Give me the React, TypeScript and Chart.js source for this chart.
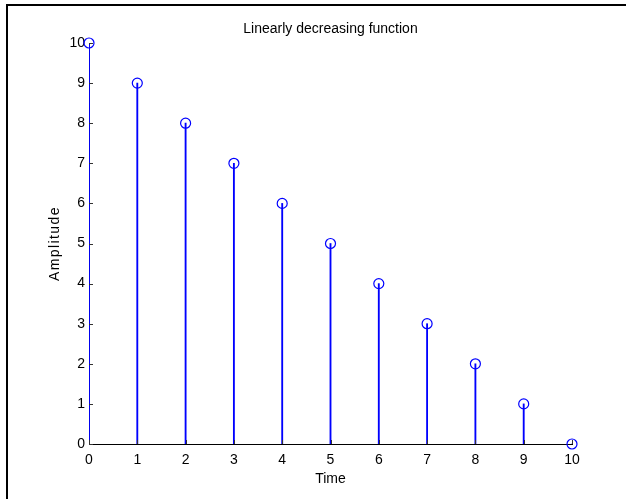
import React, { useEffect, useRef } from "react";
import { Chart, registerables } from "chart.js";

Chart.register(...registerables);

// Sample index (time) and amplitude of the linearly decreasing sequence
const timeSteps = [0, 1, 2, 3, 4, 5, 6, 7, 8, 9, 10];
const amplitudes = [10, 9, 8, 7, 6, 5, 4, 3, 2, 1, 0];

const xTicks = [0, 1, 2, 3, 4, 5, 6, 7, 8, 9, 10];
const yTicks = [0, 1, 2, 3, 4, 5, 6, 7, 8, 9, 10];

const titleText = "Linearly decreasing function";
const xLabel = "Time";
const yLabel = "Amplitude";

const STEM_BLUE = "#0000ff";
const FONT = "Arial, 'Liberation Sans', sans-serif";

// Short inward tick marks on the left and bottom axes
const inwardTicks = {
  id: "inwardTicks",
  afterDatasetsDraw(chart: any) {
    const { ctx, chartArea, scales } = chart;
    const len = 4;
    ctx.save();
    ctx.strokeStyle = "#333";
    ctx.lineWidth = 1;
    ctx.beginPath();
    for (const v of yTicks) {
      const y = Math.round(scales.y.getPixelForValue(v)) + 0.5;
      ctx.moveTo(chartArea.left, y);
      ctx.lineTo(chartArea.left + len, y);
    }
    for (const v of xTicks) {
      const x = Math.round(scales.x.getPixelForValue(v)) + 0.5;
      ctx.moveTo(x, chartArea.bottom);
      ctx.lineTo(x, chartArea.bottom - len);
    }
    ctx.stroke();
    ctx.restore();
  },
};

// Rotated y-axis label, slightly letter-spaced
const yAxisLabel = {
  id: "yAxisLabel",
  afterDraw(chart: any) {
    const { ctx, chartArea } = chart;
    ctx.save();
    ctx.translate(55, (chartArea.top + chartArea.bottom) / 2);
    ctx.rotate(-Math.PI / 2);
    ctx.font = `14px ${FONT}`;
    (ctx as any).letterSpacing = "1.4px";
    ctx.fillStyle = "#000";
    ctx.textAlign = "center";
    ctx.textBaseline = "middle";
    ctx.fillText(yLabel, 0, 0);
    ctx.restore();
  },
};

export default function App() {
  const canvasRef = useRef<HTMLCanvasElement | null>(null);

  useEffect(() => {
    if (!canvasRef.current) return;
    const points = timeSteps.map((t, i) => ({ x: t, y: amplitudes[i] }));

    const chart = new Chart(canvasRef.current, {
      type: "bar",
      data: {
        datasets: [
          {
            type: "line",
            data: points,
            showLine: false,
            clip: false,
            pointStyle: "circle",
            pointRadius: 5,
            pointBorderWidth: 1.2,
            pointBorderColor: STEM_BLUE,
            pointBackgroundColor: "rgba(0,0,0,0)",
            order: 0,
          } as any,
          {
            type: "bar",
            data: points,
            backgroundColor: STEM_BLUE,
            borderWidth: 0,
            barThickness: 1.2,
            order: 1,
          } as any,
        ],
      },
      options: {
        animation: false,
        responsive: false,
        maintainAspectRatio: false,
        layout: { padding: { left: 0, right: 54, top: 0, bottom: 0 } },
        plugins: {
          legend: { display: false },
          tooltip: { enabled: false },
          title: {
            display: true,
            fullSize: false,
            text: titleText,
            color: "#000",
            font: { family: FONT, size: 14, weight: "normal" },
            padding: { top: 21, bottom: 43 - 21 - 16.8 },
          },
        },
        scales: {
          x: {
            type: "linear",
            min: 0,
            max: 10,
            offset: false,
            grid: { display: false, drawTicks: false, offset: false },
            border: { display: true, color: "#000", width: 1 },
            afterBuildTicks: (scale: any) => {
              scale.ticks = xTicks.map((v) => ({ value: v }));
            },
            afterFit: (scale: any) => {
              scale.height = 55;
            },
            ticks: {
              color: "#000",
              font: { family: FONT, size: 14 },
              padding: 8,
              maxRotation: 0,
              autoSkip: false,
            },
            title: {
              display: true,
              text: xLabel,
              color: "#000",
              font: { family: FONT, size: 14 },
              padding: { top: 0, bottom: 11 },
            },
          },
          y: {
            type: "linear",
            min: 0,
            max: 10,
            grid: { display: false, drawTicks: false },
            border: { display: true, color: "#000", width: 1 },
            afterBuildTicks: (scale: any) => {
              scale.ticks = yTicks.map((v) => ({ value: v }));
            },
            afterFit: (scale: any) => {
              scale.width = 89;
            },
            ticks: {
              color: "#000",
              font: { family: FONT, size: 14 },
              padding: 4,
              autoSkip: false,
            },
            title: { display: false },
          },
        },
      },
      plugins: [inwardTicks, yAxisLabel],
    } as any);

    return () => chart.destroy();
  }, []);

  return (
    <div
      style={{
        position: "fixed",
        left: 0,
        top: 0,
        width: 626,
        height: 499,
        background: "#fff",
        overflow: "hidden",
      }}
    >
      <div
        style={{
          position: "absolute",
          left: 6,
          top: 4,
          right: -4,
          bottom: -4,
          borderLeft: "2px solid #000",
          borderTop: "2px solid #000",
          pointerEvents: "none",
          zIndex: 1,
        }}
      />
      <canvas ref={canvasRef} width={626} height={499} style={{ display: "block" }} />
    </div>
  );
}
